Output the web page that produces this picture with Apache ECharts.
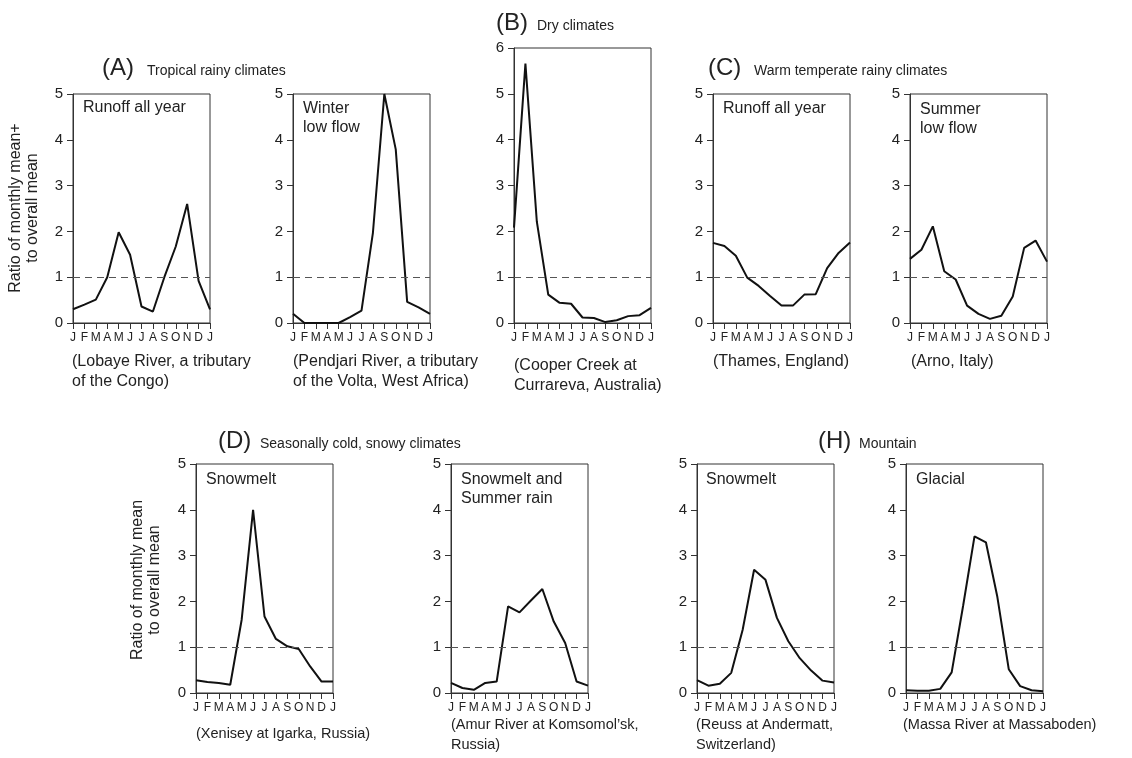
<!DOCTYPE html>
<html>
<head>
<meta charset="utf-8">
<script src="https://cdn.jsdelivr.net/npm/echarts@6/dist/echarts.min.js"></script>
<style>
html,body{margin:0;padding:0;background:#fff;}
#chart{width:1132px;height:758px;}
</style>
</head>
<body>
<div id="chart"></div>
<script>
// ---- data ----
const months = ['J','F','M','A','M','J','J','A','S','O','N','D','J'];
const lobaye   = [0.30,0.40,0.51,1.00,1.98,1.49,0.36,0.25,1.00,1.67,2.60,0.92,0.30];
const pendjari = [0.20,0.00,0.00,0.00,0.00,0.13,0.27,1.97,5.00,3.79,0.46,0.34,0.20];
const cooper   = [2.08,5.66,2.21,0.62,0.44,0.42,0.12,0.11,0.02,0.06,0.15,0.17,0.33];
const thames   = [1.75,1.68,1.47,0.99,0.81,0.59,0.38,0.38,0.62,0.63,1.20,1.53,1.76];
const arno     = [1.40,1.60,2.11,1.13,0.95,0.38,0.20,0.09,0.16,0.58,1.64,1.80,1.34];
const xenisey  = [0.28,0.24,0.22,0.18,1.60,4.00,1.67,1.18,1.02,0.96,0.58,0.25,0.25];
const amur     = [0.22,0.11,0.07,0.22,0.25,1.89,1.76,2.02,2.27,1.56,1.09,0.25,0.16];
const reuss    = [0.28,0.16,0.20,0.44,1.38,2.69,2.47,1.64,1.13,0.76,0.49,0.27,0.23];
const massa    = [0.06,0.05,0.05,0.09,0.45,1.90,3.42,3.29,2.10,0.52,0.15,0.06,0.04];
const meanLevel = 1;

// ---- layout ----
const FONT = '"Liberation Sans", Arial, Helvetica, sans-serif';
const TXT = '#222';
const panels = [
  {data: lobaye,   ymax: 5, left: 73,  top: 94,  height: 229},
  {data: pendjari, ymax: 5, left: 293, top: 94,  height: 229},
  {data: cooper,   ymax: 6, left: 514, top: 48,  height: 275},
  {data: thames,   ymax: 5, left: 713, top: 94,  height: 229},
  {data: arno,     ymax: 5, left: 910, top: 94,  height: 229},
  {data: xenisey,  ymax: 5, left: 196, top: 464, height: 229},
  {data: amur,     ymax: 5, left: 451, top: 464, height: 229},
  {data: reuss,    ymax: 5, left: 697, top: 464, height: 229},
  {data: massa,    ymax: 5, left: 906, top: 464, height: 229}
];
const W = 137;

const grid = [], xAxis = [], yAxis = [], series = [];
panels.forEach((p, i) => {
  grid.push({left: p.left, top: p.top, width: W, height: p.height,
    show: true, borderColor: '#333', borderWidth: 1, backgroundColor: 'transparent'});
  xAxis.push({type: 'value', gridIndex: i, min: 0, max: 12, interval: 1,
    axisLine: {show: true, lineStyle: {color: '#333', width: 1}},
    axisTick: {show: true, inside: false, length: 6, lineStyle: {color: '#333'}},
    splitLine: {show: false},
    axisLabel: {show: true, margin: 9, fontSize: 12, color: TXT, fontFamily: FONT,
      formatter: v => months[v]}
  });
  yAxis.push({type: 'value', gridIndex: i, min: 0, max: p.ymax, interval: 1,
    axisLine: {show: true, lineStyle: {color: '#333', width: 1}},
    axisTick: {show: true, inside: false, length: 6, lineStyle: {color: '#333'}},
    splitLine: {show: false},
    axisLabel: {show: true, margin: 10, fontSize: 15, color: TXT, fontFamily: FONT}
  });
  series.push({type: 'line', xAxisIndex: i, yAxisIndex: i,
    data: p.data.map((v, k) => [k, v]),
    symbol: 'none', lineStyle: {color: '#111', width: 2}, animation: false,
    markLine: {silent: true, symbol: 'none', animation: false,
      label: {show: false},
      lineStyle: {color: '#555', width: 1, type: [7, 5]},
      data: [{yAxis: meanLevel}]}
  });
});

function t(x, y, text, size, extra) {
  return Object.assign({type: 'text', x: x, y: y,
    style: {text: text, fontSize: size, fill: TXT, fontFamily: FONT,
      align: 'left', verticalAlign: 'middle', lineHeight: size + 4}}, extra || {});
}
function tl(x, y, text, size, lh) {
  return {type: 'text', x: x, y: y,
    style: {text: text, fontSize: size, fill: TXT, fontFamily: FONT,
      align: 'left', verticalAlign: 'top', lineHeight: lh}};
}

const graphic = [
  // group titles
  t(102, 68, '(A)', 24), t(147, 71, 'Tropical rainy climates', 14),
  t(496, 23, '(B)', 24), t(537, 26, 'Dry climates', 14),
  t(708, 68, '(C)', 24), t(754, 71, 'Warm temperate rainy climates', 14),
  t(218, 441, '(D)', 24), t(260, 444, 'Seasonally cold, snowy climates', 14),
  t(818, 441, '(H)', 24), t(859, 444, 'Mountain', 14),
  // inner labels
  tl(83, 98, 'Runoff all year', 16, 19),
  tl(303, 99, 'Winter\nlow flow', 16, 19),
  tl(723, 99, 'Runoff all year', 16, 19),
  tl(920, 100, 'Summer\nlow flow', 16, 19),
  tl(206, 470, 'Snowmelt', 16, 19),
  tl(461, 470, 'Snowmelt and\nSummer rain', 16, 19),
  tl(706, 470, 'Snowmelt', 16, 19),
  tl(916, 470, 'Glacial', 16, 19),
  // captions
  tl(72, 352, '(Lobaye River, a tributary\nof the Congo)', 16, 20),
  tl(293, 352, '(Pendjari River, a tributary\nof the Volta, West Africa)', 16, 20),
  tl(514, 356, '(Cooper Creek at\nCurrareva, Australia)', 16, 20),
  tl(713, 352, '(Thames, England)', 16, 20),
  tl(911, 352, '(Arno, Italy)', 16, 20),
  tl(196, 724, '(Xenisey at Igarka, Russia)', 14.5, 20),
  tl(451, 715, '(Amur River at Komsomol\u2019sk,\nRussia)', 14.5, 20),
  tl(696, 715, '(Reuss at Andermatt,\nSwitzerland)', 14.5, 20),
  tl(903, 715, '(Massa River at Massaboden)', 14.5, 20),
  // y-axis names
  {type: 'text', x: 24.5, y: 208, rotation: Math.PI / 2,
    style: {text: 'Ratio of monthly mean+\nto overall mean', fontSize: 16, fill: TXT,
      fontFamily: FONT, align: 'center', verticalAlign: 'middle', lineHeight: 17}},
  {type: 'text', x: 146, y: 580, rotation: Math.PI / 2,
    style: {text: 'Ratio of monthly mean\nto overall mean', fontSize: 16, fill: TXT,
      fontFamily: FONT, align: 'center', verticalAlign: 'middle', lineHeight: 17}}
];

const chart = echarts.init(document.getElementById('chart'), null, {renderer: 'canvas'});
chart.setOption({
  animation: false,
  backgroundColor: '#fff',
  textStyle: {fontFamily: FONT},
  grid: grid, xAxis: xAxis, yAxis: yAxis, series: series, graphic: graphic
});
</script>
</body>
</html>
